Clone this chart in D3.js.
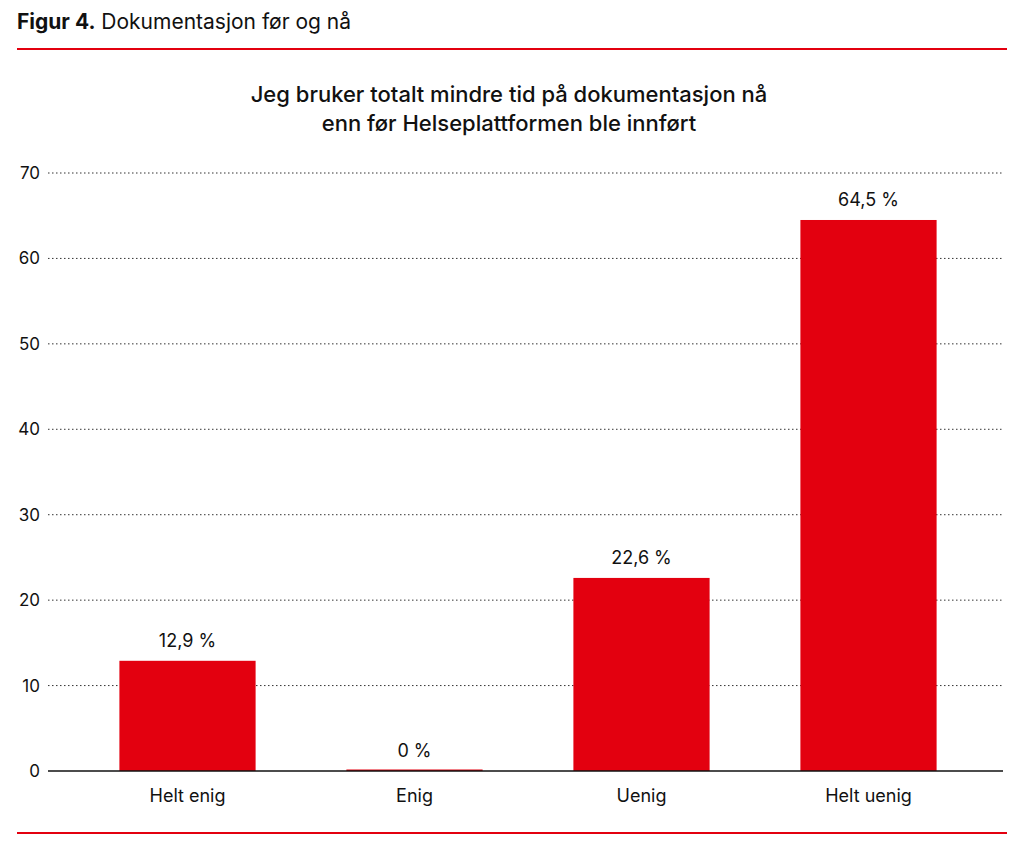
<!DOCTYPE html>
<html><head><meta charset="utf-8">
<script src="https://cdn.jsdelivr.net/npm/d3@7"></script>
<style>body{margin:0;background:#fff;font-family:Inter,"Noto Sans",sans-serif}</style>
</head><body><div id="vis"></div>
<script>
const categories = ['Helt enig', 'Enig', 'Uenig', 'Helt uenig']
const values = [12.9, 0, 22.6, 64.5]
const valueLabels = ['12,9 %', '0 %', '22,6 %', '64,5 %']
const yTicks = [0, 10, 20, 30, 40, 50, 60, 70]
const red = '#e3000f'

const svg = d3.select('#vis').append('svg').attr('width', 1024).attr('height', 852)

// header
const head = svg.append('text').attr('x', 17).attr('y', 29).attr('font-size', 21).attr('fill', '#111')
head.append('tspan').attr('font-weight', 700).text('Figur 4.')
head.append('tspan').text(' Dokumentasjon før og nå')
svg.append('line').attr('x1', 17).attr('x2', 1007).attr('y1', 49).attr('y2', 49).attr('stroke', red).attr('stroke-width', 2)
svg.append('line').attr('x1', 17).attr('x2', 1007).attr('y1', 833).attr('y2', 833).attr('stroke', red).attr('stroke-width', 2)

svg.selectAll('.ttl').data(['Jeg bruker totalt mindre tid på dokumentasjon nå', 'enn før Helseplattformen ble innført'])
    .enter().append('text')
    .attr('x', 509).attr('y', (d, i) => 102 + i * 29)
    .attr('text-anchor', 'middle').attr('font-size', 22).attr('font-weight', 500).attr('fill', '#111')
    .text(d => d)

const x = d3.scaleBand(categories, [74, 982]).paddingInner(0.4).paddingOuter(0.2)
const y = d3.scaleLinear([0, 70], [771, 173])

// grid
svg.selectAll('.grid').data(yTicks.slice(1)).enter().append('line')
    .attr('x1', 48).attr('x2', 1003).attr('y1', d => y(d)).attr('y2', d => y(d))
    .attr('stroke', '#333').attr('stroke-dasharray', '1.5,2.5').attr('stroke-width', 1)

const yAxis = svg.append('g').attr('transform', 'translate(40,0)')
    .call(d3.axisLeft(y).tickValues(yTicks).tickSize(0).tickPadding(0))
yAxis.select('.domain').remove()
yAxis.selectAll('text').attr('font-size', 17).attr('fill', '#111').attr('font-family', 'Inter,"Noto Sans",sans-serif')

svg.selectAll('.bar').data(values).enter().append('rect')
    .attr('x', (d, i) => x(categories[i])).attr('width', x.bandwidth())
    .attr('y', d => y(d) - (d === 0 ? 1.5 : 0))
    .attr('height', d => Math.max(1.5, y(0) - y(d)))
    .attr('fill', red)

svg.selectAll('.vl').data(values).enter().append('text')
    .attr('x', (d, i) => x(categories[i]) + x.bandwidth() / 2)
    .attr('y', d => y(d) - 14)
    .attr('text-anchor', 'middle').attr('font-size', 18).attr('fill', '#111')
    .text((d, i) => valueLabels[i])

svg.append('line').attr('x1', 48).attr('x2', 1003).attr('y1', y(0)).attr('y2', y(0)).attr('stroke', '#111').attr('stroke-width', 1.5)

const xAxis = svg.append('g').attr('transform', `translate(0,${y(0)})`)
    .call(d3.axisBottom(x).tickSize(0).tickPadding(18))
xAxis.select('.domain').remove()
xAxis.selectAll('text').attr('font-size', 18).attr('fill', '#111').attr('font-family', 'Inter,"Noto Sans",sans-serif')
</script></body></html>
